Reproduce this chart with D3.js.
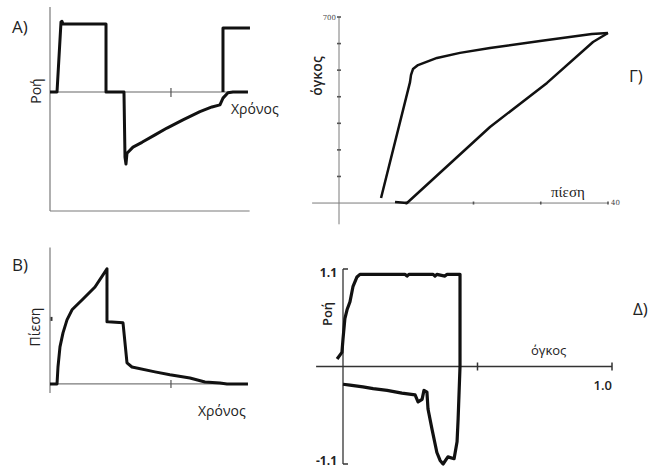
<!DOCTYPE html>
<html>
<head>
<meta charset="utf-8">
<script src="https://cdn.jsdelivr.net/npm/d3@7"></script>
<style>
  html, body { margin: 0; padding: 0; background: #fff; }
  svg { display: block; font-family: "Open Sans", "Noto Sans", sans-serif; }
</style>
</head>
<body>
<svg id="chart" width="665" height="468"></svg>
<script>
// Panel Α: flow vs time (time, flow)
const flowTimeMain = [
  [0, 0], [0.116, 0], [0.182, 1.03], [0.198, 1.04], [0.215, 1.0], [0.926, 1.0],
  [0.926, 0], [1.223, 0], [1.240, -0.96], [1.256, -1.06], [1.273, -0.90],
  [1.372, -0.81], [1.521, -0.74], [1.736, -0.63], [1.934, -0.53], [2.198, -0.41],
  [2.479, -0.29], [2.678, -0.22], [2.810, -0.19], [2.860, -0.09], [2.942, -0.01],
  [3.025, 0], [3.273, 0]
];
const flowTimeNext = [[2.860, 0], [2.860, 0.94], [3.306, 0.94]];

// Panel Β: airway pressure vs time (time, pressure)
const pressureTime = [
  [0, 0], [0.116, 0], [0.132, 5.2], [0.165, 11.4], [0.215, 15.7], [0.281, 19.7],
  [0.364, 22.8], [0.529, 25.8], [0.744, 29.8], [0.942, 35.4], [0.942, 19.1],
  [0.959, 19.1], [1.207, 18.8], [1.273, 6.5], [1.355, 5.2], [1.736, 3.7],
  [1.983, 2.8], [2.314, 1.8], [2.562, 0.6], [2.810, 0.3], [2.926, 0], [3.273, 0]
];

// Panel Γ: pressure-volume loop (pressure, volume)
const pvInspiration = [
  [6.25, 19], [10.56, 455], [10.71, 482], [11.0, 504], [11.75, 519], [14.57, 546],
  [17.99, 565], [22.45, 583], [29.9, 610], [37.6, 636], [40.0, 640]
];
const pvExpiration = [
  [40.0, 640], [37.77, 606], [30.93, 452], [22.45, 286], [10.11, 0], [8.33, 4]
];
const pvYTicks = [100, 200, 300, 400, 500, 600, 700];
const pvXTicks = [10, 20, 30, 40];

// Panel Δ: flow-volume loop (volume, flow)
const fvLoop = [
  [-0.022, 0.085], [-0.004, 0.16], [0.0, 0.31], [0.007, 0.54], [0.015, 0.64],
  [0.026, 0.73], [0.037, 0.90], [0.052, 1.01], [0.063, 1.04], [0.230, 1.04],
  [0.238, 1.02], [0.245, 1.04], [0.335, 1.04], [0.342, 1.02], [0.349, 1.04],
  [0.379, 1.02], [0.387, 1.04], [0.435, 1.04], [0.435, 0], [0.428, -0.59],
  [0.424, -0.85], [0.413, -1.04], [0.390, -1.02], [0.372, -1.10], [0.361, -1.06],
  [0.349, -0.97], [0.331, -0.71], [0.316, -0.48], [0.312, -0.29], [0.301, -0.27],
  [0.294, -0.37], [0.279, -0.40], [0.268, -0.32], [0.219, -0.30], [0.164, -0.27],
  [0.112, -0.25], [0.074, -0.23], [0.026, -0.21], [0.0, -0.20]
];
const fvXTicks = [0.5, 1.0];
const fvYTicks = [-1.1, 1.1];
const timeTick = [2];

const svg = d3.select("#chart");
const axisColor = "#7a7a7a";
const curveColor = "#111";

function curve(g, data, x, y, w) {
  g.append("path")
    .datum(data)
    .attr("fill", "none")
    .attr("stroke", curveColor)
    .attr("stroke-width", w || 3)
    .attr("stroke-linejoin", "round")
    .attr("d", d3.line().x(d => x(d[0])).y(d => y(d[1])));
}
function hline(g, x1, x2, y, w, c) {
  g.append("line").attr("x1", x1).attr("x2", x2).attr("y1", y).attr("y2", y)
    .attr("stroke", c || axisColor).attr("stroke-width", w || 1);
}
function vline(g, x, y1, y2, w, c) {
  g.append("line").attr("x1", x).attr("x2", x).attr("y1", y1).attr("y2", y2)
    .attr("stroke", c || axisColor).attr("stroke-width", w || 1);
}
function text(g, s, x, y, opts) {
  const o = opts || {};
  const t = g.append("text").attr("x", x).attr("y", y).text(s)
    .attr("font-size", o.size || 14)
    .attr("fill", o.fill || "#222")
    .attr("text-anchor", o.anchor || "start")
    .attr("dominant-baseline", "central");
  if (o.weight) t.attr("font-weight", o.weight);
  if (o.family) t.attr("font-family", o.family);
  if (o.rotate) t.attr("transform", `rotate(-90 ${x} ${y})`).attr("text-anchor", "middle");
  return t;
}

// ---------- Α) flow / time ----------
{
  const g = svg.append("g");
  const x = d3.scaleLinear().domain([0, 3.3]).range([50, 249.6]);
  const y = d3.scaleLinear().domain([-1.75, 1.25]).range([211, 7]);
  vline(g, x(0), y(1.25), y(-1.75), 1.2);
  hline(g, x(0), x(3.3), y(-1.75), 1.2);
  hline(g, x(0), x(3.27), y(0), 1.2, "#666");
  timeTick.forEach(t => vline(g, x(t), y(0) - 4, y(0) + 5, 1.2, "#555"));
  curve(g, flowTimeMain, x, y);
  curve(g, flowTimeNext, x, y);
  text(g, "Α)", 12, 26, { size: 17 });
  text(g, "Ροή", 35, 91, { size: 14, rotate: true });
  text(g, "Χρόνος", 231, 108, { size: 14 });
}

// ---------- Β) pressure / time ----------
{
  const g = svg.append("g");
  const x = d3.scaleLinear().domain([0, 3.3]).range([50, 249.6]);
  const y = d3.scaleLinear().domain([-2.8, 42]).range([393, 247.4]);
  vline(g, x(0), y(42), y(-2.8), 1.2);
  hline(g, x(0), x(3.27), y(0), 1.2);
  timeTick.forEach(t => vline(g, x(t), y(0) - 4, y(0) + 4, 1.2, "#555"));
  vline(g, x(0) + 1.5, y(20) - 2, y(20) + 2, 2, "#333");
  curve(g, pressureTime, x, y);
  text(g, "Β)", 12, 264, { size: 17 });
  text(g, "Πίεση", 34, 327, { size: 14, rotate: true });
  text(g, "Χρόνος", 198, 410, { size: 14 });
}

// ---------- Γ) pressure-volume loop ----------
{
  const g = svg.append("g");
  const x = d3.scaleLinear().domain([-4, 40]).range([312.1, 608]);
  const y = d3.scaleLinear().domain([-80, 700]).range([224.3, 17]);
  vline(g, x(0), y(700), y(-80), 1);
  hline(g, x(-4), x(40), y(0), 1);
  pvYTicks.forEach(v => hline(g, x(0) - 2, x(0) + 2, y(v), 1.6, "#555"));
  pvXTicks.forEach(v => vline(g, x(v), y(0) - 1.5, y(0) + 1.5, 1.6, "#555"));
  curve(g, pvInspiration, x, y, 2.5);
  curve(g, pvExpiration, x, y, 2.5);
  text(g, "700", x(0) - 3, y(700) + 1, { size: 7, anchor: "end", family: "DejaVu Serif", fill: "#444" });
  text(g, "40", x(40) + 3, y(0), { size: 7, family: "DejaVu Serif", fill: "#444" });
  text(g, "όγκος", 316, 76, { size: 14, weight: 600, rotate: true });
  text(g, "πίεση", 551, 192, { size: 15, family: "Liberation Serif" });
  text(g, "Γ)", 629, 75, { size: 17 });
}

// ---------- Δ) flow-volume loop ----------
{
  const g = svg.append("g");
  const x = d3.scaleLinear().domain([-0.1, 1.0]).range([316.1, 612]);
  const y = d3.scaleLinear().domain([-1.1, 1.1]).range([464, 269]);
  vline(g, x(0), y(1.1), y(-1.1), 1.3, "#333");
  hline(g, x(-0.1), x(1.0), y(0), 1.3, "#333");
  fvYTicks.forEach(v => hline(g, x(0), x(0) + 5, y(v), 1.5, "#333"));
  fvXTicks.forEach(v => vline(g, x(v), y(0) - 4, y(0) + 4, 1.5, "#333"));
  curve(g, fvLoop, x, y, 3.2);
  text(g, "1.1", x(0) - 6, y(1.1) + 3, { size: 12, weight: 700, anchor: "end" });
  text(g, "-1.1", x(0) - 6, y(-1.1) - 4, { size: 12, weight: 700, anchor: "end" });
  text(g, "1.0", x(1.0), y(0) + 18, { size: 13, weight: 600, anchor: "end" });
  text(g, "Ροή", 327, 314, { size: 13, weight: 600, rotate: true });
  text(g, "όγκος", 531, 350, { size: 13 });
  text(g, "Δ)", 633, 308, { size: 17 });
}
</script>
</body>
</html>
